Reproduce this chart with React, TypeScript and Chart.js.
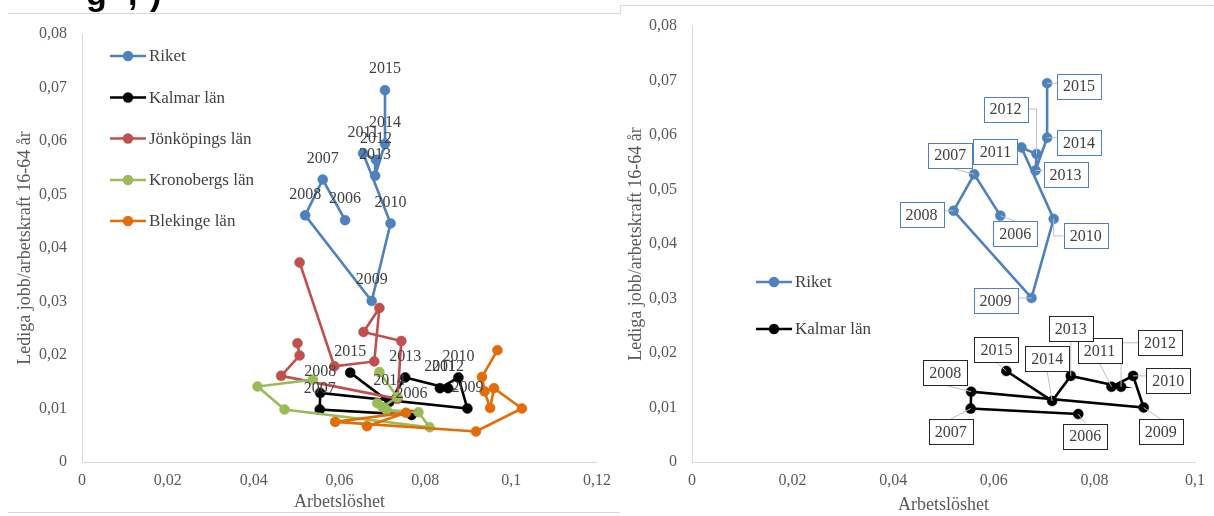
import React, { useEffect, useRef } from 'react';
import { Chart, registerables } from 'chart.js';

Chart.register(...registerables);

// ---------- data ----------
const years = ['2006', '2007', '2008', '2009', '2010', '2011', '2012', '2013', '2014', '2015'];

const riketX = [0.0613, 0.0561, 0.0520, 0.0675, 0.0719, 0.0655, 0.0685, 0.0683, 0.0706, 0.0706];
const riketY = [0.0452, 0.0528, 0.0461, 0.0301, 0.0446, 0.0577, 0.0565, 0.0535, 0.0595, 0.0695];

const kalmarX = [0.0768, 0.0554, 0.0555, 0.0898, 0.0877, 0.0834, 0.0853, 0.0753, 0.0716, 0.0625];
const kalmarY = [0.0088, 0.0098, 0.0129, 0.0100, 0.0158, 0.0138, 0.0138, 0.0158, 0.0112, 0.0167];

const jonkopingX = [0.0502, 0.0507, 0.0464, 0.0735, 0.0744, 0.0656, 0.0693, 0.0681, 0.0588, 0.0507];
const jonkopingY = [0.0222, 0.0199, 0.0161, 0.0118, 0.0226, 0.0243, 0.0288, 0.0188, 0.0179, 0.0373];

const kronobergX = [0.0538, 0.0409, 0.0472, 0.0810, 0.0784, 0.0710, 0.0688, 0.0700, 0.0735, 0.0693];
const kronobergY = [0.0154, 0.0141, 0.0098, 0.0065, 0.0093, 0.0097, 0.0110, 0.0103, 0.0121, 0.0168];

const blekingeX = [0.0664, 0.0755, 0.0590, 0.0918, 0.1025, 0.0960, 0.0951, 0.0938, 0.0932, 0.0968];
const blekingeY = [0.0067, 0.0092, 0.0075, 0.0057, 0.0100, 0.0138, 0.0101, 0.0132, 0.0159, 0.0209];

const seriesNames = ['Riket', 'Kalmar län', 'Jönköpings län', 'Kronobergs län', 'Blekinge län'];
const seriesColors = ['#4F81BD', '#000000', '#C0504D', '#9BBB59', '#E36C09'];

const xTitle = 'Arbetslöshet';
const yTitle = 'Lediga jobb/arbetskraft 16-64 år';

// ---------- label layout (styling only) ----------
const riketBoxOffsets = [[15, 18], [-24, -19], [-32, 4], [-36, 3], [32, 17], [-26, 4], [-31, -45], [30, 4], [32, 5], [32, 3]];
const kalmarBoxOffsets = [[7, 22], [-20, 23], [-26, -19], [17, 24], [35, 5], [-12, -36], [39, -44], [0, -47], [-5, -42], [-10, -21]];

const FONT = "'Liberation Serif', 'Times New Roman', serif";
const TEXT = '#404040';
const TICK = '#595959';
const AXIS = '#D9D9D9';

function fmt(v: number) {
  return String(Number(v.toFixed(2))).replace('.', ',');
}

function toPoints(xs: number[], ys: number[]) {
  return xs.map((x, i) => ({ x, y: ys[i] }));
}

function makeDataset(idx: number, xs: number[], ys: number[], order: number) {
  const c = seriesColors[idx];
  return {
    label: seriesNames[idx],
    data: toPoints(xs, ys),
    showLine: true,
    borderColor: c,
    backgroundColor: c,
    borderWidth: 2.6,
    pointRadius: 5,
    pointHoverRadius: 5,
    pointBackgroundColor: c,
    pointBorderColor: c,
    pointBorderWidth: 0.5,
    tension: 0,
    order,
  };
}

function makeScales(xMax: number, yWidth: number, xHeight: number, yTitlePad: number, xTitlePad: number) {
  return {
    x: {
      type: 'linear',
      min: 0,
      max: xMax,
      grid: { display: false, drawTicks: false },
      border: { display: true, color: AXIS, width: 1 },
      ticks: {
        stepSize: 0.02,
        padding: 9,
        color: TICK,
        font: { family: FONT, size: 16 },
        callback: (v: number) => fmt(v),
        maxRotation: 0,
      },
      title: {
        display: true,
        text: xTitle,
        color: TICK,
        font: { family: FONT, size: 18 },
        padding: { top: 0, bottom: xTitlePad },
      },
      afterFit: (s: any) => { s.height = xHeight; },
    },
    y: {
      type: 'linear',
      min: 0,
      max: 0.08,
      grid: { display: false, drawTicks: false },
      border: { display: true, color: AXIS, width: 1 },
      ticks: {
        stepSize: 0.01,
        padding: 15,
        color: TICK,
        font: { family: FONT, size: 16 },
        callback: (v: number) => fmt(v),
      },
      title: {
        display: true,
        text: yTitle,
        color: TICK,
        font: { family: FONT, size: 18 },
        padding: { top: yTitlePad, bottom: 0 },
      },
      afterFit: (s: any) => { s.width = yWidth; },
    },
  };
}

function legendPlugin(items: { idx: number; x: number; y: number }[]) {
  return {
    id: 'customLegend',
    afterDraw(chart: any) {
      const ctx = chart.ctx;
      ctx.save();
      items.forEach(({ idx, x, y }) => {
        const c = seriesColors[idx];
        ctx.strokeStyle = c;
        ctx.lineWidth = 2.6;
        ctx.beginPath();
        ctx.moveTo(x, y);
        ctx.lineTo(x + 36, y);
        ctx.stroke();
        ctx.fillStyle = c;
        ctx.beginPath();
        ctx.arc(x + 18, y, 5.2, 0, Math.PI * 2);
        ctx.fill();
        ctx.fillStyle = TEXT;
        ctx.font = `17px ${FONT}`;
        ctx.textAlign = 'left';
        ctx.textBaseline = 'middle';
        ctx.fillText(seriesNames[idx], x + 39, y + 1);
      });
      ctx.restore();
    },
  };
}

const aboveLabelsPlugin = {
  id: 'aboveLabels',
  afterDatasetsDraw(chart: any) {
    const ctx = chart.ctx;
    ctx.save();
    ctx.font = `16px ${FONT}`;
    ctx.fillStyle = TEXT;
    ctx.textAlign = 'center';
    ctx.textBaseline = 'middle';
    [0, 1].forEach((di) => {
      const meta = chart.getDatasetMeta(di);
      meta.data.forEach((pt: any, i: number) => {
        ctx.fillText(years[i], pt.x, pt.y - 21);
      });
    });
    ctx.restore();
  },
};

const boxLabelsPlugin = {
  id: 'boxLabels',
  afterDatasetsDraw(chart: any) {
    const ctx = chart.ctx;
    const W = 44;
    const H = 25;
    ctx.save();
    const sets: [number, number[][], string][] = [
      [0, riketBoxOffsets, seriesColors[0]],
      [1, kalmarBoxOffsets, '#262626'],
    ];
    sets.forEach(([di, offs]) => {
      const meta = chart.getDatasetMeta(di);
      meta.data.forEach((pt: any, i: number) => {
        const cx = pt.x + offs[i][0];
        const cy = pt.y + offs[i][1];
        const l = cx - W / 2, r = cx + W / 2, t = cy - H / 2, b = cy + H / 2;
        const px = pt.x, py = pt.y;
        ctx.strokeStyle = '#BFBFBF';
        ctx.lineWidth = 1;
        ctx.beginPath();
        if (py >= t && py <= b) {
          const ax = px < l ? l : r;
          if (Math.abs(ax - px) < 7) return;
          ctx.moveTo(ax, py);
          ctx.lineTo(px, py);
        } else if (px >= l - 4 && px <= r + 4) {
          const ay = py < t ? t : b;
          if (Math.hypot(cx - px, ay - py) < 7) return;
          ctx.moveTo(cx, ay);
          ctx.lineTo(px, py);
        } else {
          const ax = px < l ? l : r;
          ctx.moveTo(ax, cy);
          ctx.lineTo(px, cy);
          ctx.lineTo(px, py);
        }
        ctx.stroke();
      });
    });
    sets.forEach(([di, offs, col]) => {
      const meta = chart.getDatasetMeta(di);
      meta.data.forEach((pt: any, i: number) => {
        const cx = pt.x + offs[i][0];
        const cy = pt.y + offs[i][1];
        ctx.fillStyle = '#FFFFFF';
        ctx.fillRect(cx - W / 2, cy - H / 2, W, H);
        ctx.strokeStyle = col;
        ctx.lineWidth = 1;
        ctx.strokeRect(Math.round(cx - W / 2) + 0.5, Math.round(cy - H / 2) + 0.5, W, H);
        ctx.fillStyle = TEXT;
        ctx.font = `16px ${FONT}`;
        ctx.textAlign = 'center';
        ctx.textBaseline = 'middle';
        ctx.fillText(years[i], cx, cy + 1);
      });
    });
    ctx.restore();
  },
};

function LeftChart() {
  const ref = useRef<HTMLCanvasElement | null>(null);
  useEffect(() => {
    if (!ref.current) return;
    const chart = new Chart(ref.current, {
      type: 'scatter',
      data: {
        datasets: [
          makeDataset(0, riketX, riketY, 5),
          makeDataset(1, kalmarX, kalmarY, 4),
          makeDataset(2, jonkopingX, jonkopingY, 3),
          makeDataset(3, kronobergX, kronobergY, 2),
          makeDataset(4, blekingeX, blekingeY, 1),
        ],
      } as any,
      options: {
        animation: false,
        responsive: false,
        devicePixelRatio: 1,
        layout: { padding: { left: 0, top: 34, right: 23, bottom: 0 } },
        plugins: { legend: { display: false }, tooltip: { enabled: false } },
        scales: makeScales(0.12, 82, 54, 14, 3) as any,
      },
      plugins: [
        aboveLabelsPlugin,
        legendPlugin([
          { idx: 0, x: 110, y: 56 },
          { idx: 1, x: 110, y: 97.5 },
          { idx: 2, x: 110, y: 138.5 },
          { idx: 3, x: 110, y: 180 },
          { idx: 4, x: 110, y: 221 },
        ]),
      ],
    });
    return () => chart.destroy();
  }, []);
  return (
    <canvas
      ref={ref}
      width={620}
      height={516}
      style={{ position: 'absolute', left: 0, top: 0, width: 620, height: 516 }}
    />
  );
}

function RightChart() {
  const ref = useRef<HTMLCanvasElement | null>(null);
  useEffect(() => {
    if (!ref.current) return;
    const chart = new Chart(ref.current, {
      type: 'scatter',
      data: {
        datasets: [
          makeDataset(0, riketX, riketY, 2),
          makeDataset(1, kalmarX, kalmarY, 1),
        ],
      } as any,
      options: {
        animation: false,
        responsive: false,
        devicePixelRatio: 1,
        layout: { padding: { left: 0, top: 26, right: 15, bottom: 0 } },
        plugins: { legend: { display: false }, tooltip: { enabled: false } },
        scales: makeScales(0.1, 72, 54, 5, 0) as any,
      },
      plugins: [
        boxLabelsPlugin,
        legendPlugin([
          { idx: 0, x: 136, y: 282 },
          { idx: 1, x: 136, y: 329 },
        ]),
      ],
    });
    return () => chart.destroy();
  }, []);
  return (
    <canvas
      ref={ref}
      width={594}
      height={516}
      style={{ position: 'absolute', left: 620, top: 0, width: 594, height: 516 }}
    />
  );
}

export default function App() {
  const line = '#D9D9D9';
  const frag: React.CSSProperties = {
    position: 'absolute',
    top: -24,
    fontFamily: "'Liberation Sans', Arial, sans-serif",
    fontWeight: 700,
    fontSize: 34,
    lineHeight: '34px',
    color: '#000',
  };
  return (
    <div style={{ position: 'absolute', left: 0, top: 0, width: 1214, height: 516, background: '#fff', overflow: 'hidden' }}>
      <LeftChart />
      <RightChart />
      <div style={{ position: 'absolute', left: 0, top: 0, width: 300, height: 12, overflow: 'hidden' }}>
        <span style={{ ...frag, left: 86 }}>g</span>
        <span style={{ ...frag, left: 128 }}>,</span>
        <span style={{ ...frag, left: 150 }}>)</span>
      </div>
      <div style={{ position: 'absolute', left: 8, top: 13, width: 613, height: 1, background: line }} />
      <div style={{ position: 'absolute', left: 620, top: 5, width: 1, height: 9, background: line }} />
      <div style={{ position: 'absolute', left: 620, top: 5, width: 594, height: 1, background: line }} />
      <div style={{ position: 'absolute', left: 8, top: 512, width: 612, height: 1, background: line }} />
    </div>
  );
}
